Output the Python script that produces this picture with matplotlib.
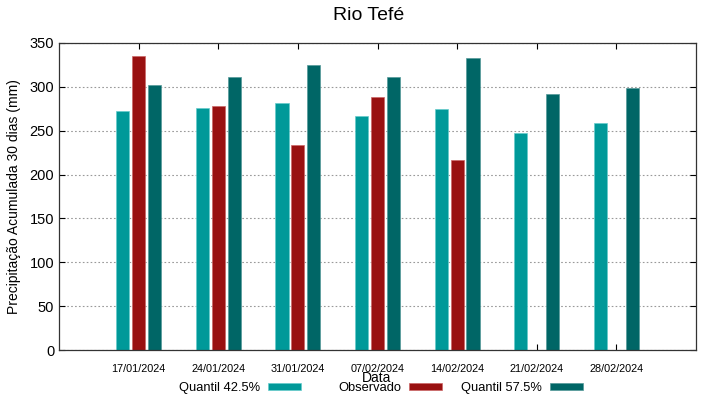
import matplotlib
matplotlib.use("Agg")
import matplotlib.pyplot as plt
import matplotlib.transforms as mtransforms
import numpy as np

plt.rcParams['font.family'] = ['Liberation Sans', 'DejaVu Sans']

dates = ["17/01/2024", "24/01/2024", "31/01/2024", "07/02/2024",
         "14/02/2024", "21/02/2024", "28/02/2024"]
q425 = [272, 275.5, 282, 267, 274.5, 247, 259]
observado = [335, 278, 233.5, 289, 216.5, np.nan, np.nan]
q575 = [302, 311, 324.5, 311, 332.5, 292, 299]
yticks = [0, 50, 100, 150, 200, 250, 300, 350]

c1, c2, c3 = "#009999", "#991111", "#006666"

fig = plt.figure(figsize=(7.19, 3.99), dpi=100)
ax = fig.add_axes([59/719, 1-350/399, (696-59)/719, (350-43)/399])

x = np.arange(len(dates))
w = 0.165
off = 0.2
b1 = ax.bar(x - off, q425, w, color=c1, edgecolor="#66cccc", linewidth=0.5, label="Quantil 42.5%")
b2 = ax.bar(x, observado, w, color=c2, edgecolor="#cc6666", linewidth=0.5, label="Observado")
b3 = ax.bar(x + off, q575, w, color=c3, edgecolor="#559999", linewidth=0.5, label="Quantil 57.5%")

ax.set_xlim(-1, 7)
ax.set_ylim(0, 350)
ax.set_yticks(yticks)
ax.set_xticks(x)
ax.set_xticklabels(dates, fontsize=7.8)
for lbl in ax.get_xticklabels():
    lbl.set_transform(lbl.get_transform() + mtransforms.ScaledTranslation(6/100, 0, fig.dpi_scale_trans))
ax.tick_params(axis='y', labelsize=10.5, direction='in', right=True, length=4)
ax.tick_params(axis='x', direction='in', top=True, length=4, pad=10)
ax.yaxis.grid(True, linestyle=(0, (1.5, 2)), color="#999999", linewidth=0.8)
ax.set_axisbelow(True)
for s in ax.spines.values():
    s.set_linewidth(0.9)
    s.set_color("#333333")

ax.set_ylabel("Precipitação Acumulada 30 dias (mm)", fontsize=10, labelpad=6)
fig.text(377/719, 1-378/399, "Data", ha='center', va='center', fontsize=10)
fig.text(369/719, 1-16/399, "Rio Tefé", ha='center', va='center', fontsize=14)

for handle, xr in zip([b1, b2, b3], [301, 442, 583]):
    fig.legend(handles=[handle], loc='center right', bbox_to_anchor=(xr/719, 1-388/399),
               frameon=False, markerfirst=False, fontsize=9.3,
               handlelength=2.55, handleheight=0.4, handletextpad=0.6,
               borderpad=0, borderaxespad=0)

fig.savefig("out.png", dpi=100)
